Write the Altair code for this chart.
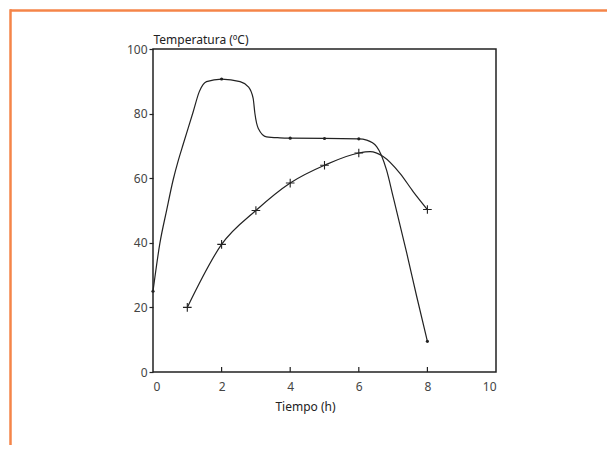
import altair as alt
import pandas as pd

# marked data points
time_dots = [0, 2, 4, 5, 6, 8]
temp_dots = [25, 90.7, 72.4, 72.3, 72.2, 9.5]
time_cross = [1, 2, 3, 4, 5, 6, 8]
temp_cross = [20, 39.5, 50, 58.5, 64, 67.8, 50.3]

# points
curve1_x = [0, 0.2, 0.4, 0.59, 0.74, 0.88, 1.17, 1.35, 1.56, 2, 2.54, 2.78, 2.92, 2.97, 3.07, 3.31, 3.70,
            4, 5, 6, 6.23, 6.52, 6.81, 7.0, 7.4, 7.69, 8]
curve1_y = [25, 39.8, 50.2, 59.6, 65.6, 70.5, 80.5, 86.8, 89.9, 90.7, 89.9, 88.3, 84.7, 80.1, 75.4, 72.8, 72.5,
            72.4, 72.3, 72.2, 71.8, 69.8, 62.5, 54.3, 36.7, 23.3, 9.5]
curve2_x = [1, 2, 3, 4, 5, 6, 6.33, 6.71, 7.2, 7.59, 8]
curve2_y = [20, 39.5, 50, 58.5, 64, 67.8, 68.2, 66.7, 61.5, 55.8, 50.3]

x_ticks = [0, 2, 4, 6, 8, 10]
y_ticks = [0, 20, 40, 60, 80, 100]
inner_ticks = [2, 4, 6, 8]

W, H = 343, 323
FONT = "Noto Sans"
INK = "#222222"
ORANGE = "#F58549"

xs = alt.Scale(domain=[0, 10], nice=False)
ys = alt.Scale(domain=[0, 100], nice=False)

c1 = pd.DataFrame({"t": curve1_x, "v": curve1_y})
c2 = pd.DataFrame({"t": curve2_x, "v": curve2_y})
d1 = pd.DataFrame({"t": time_dots, "v": temp_dots})
d2 = pd.DataFrame({"t": time_cross, "v": temp_cross})
tk = pd.DataFrame({"t": inner_ticks})

xaxis = alt.Axis(values=x_ticks, ticks=False, domain=False, grid=False, labelPadding=9,
                 labelFont=FONT, labelFontSize=12, labelColor="#444444",
                 title="Tiempo (h)", titleFont=FONT, titleFontSize=12, titleFontWeight="normal",
                 titleColor=INK, titleX=152, titleY=34, titleBaseline="middle", titleAnchor="start",
                 titleAlign="center")
yaxis = alt.Axis(values=y_ticks, tickSize=4, tickColor=INK, tickWidth=1.2, domain=False, grid=False,
                 labelPadding=2, labelFont=FONT, labelFontSize=12, labelColor="#444444",
                 title="Temperatura (ºC)", titleFont=FONT, titleFontSize=12, titleFontWeight="normal",
                 titleColor=INK, titleAngle=0, titleX=0, titleY=-10, titleAlign="left",
                 titleBaseline="middle", titleAnchor="start")

line1 = alt.Chart(c1).mark_line(interpolate="monotone", color=INK, strokeWidth=1.2).encode(
    x=alt.X("t:Q", scale=xs, axis=xaxis),
    y=alt.Y("v:Q", scale=ys, axis=yaxis),
)
line2 = alt.Chart(c2).mark_line(interpolate="monotone", color=INK, strokeWidth=1.2).encode(
    x=alt.X("t:Q", scale=xs), y=alt.Y("v:Q", scale=ys))
dots = alt.Chart(d1).mark_point(filled=True, shape="circle", size=10, color=INK, opacity=1).encode(
    x=alt.X("t:Q", scale=xs), y=alt.Y("v:Q", scale=ys))
crosses = alt.Chart(d2).mark_point(filled=False, shape="M-1,0L1,0M0,-1L0,1", size=75, color=INK,
                                   strokeWidth=1.1, opacity=1).encode(
    x=alt.X("t:Q", scale=xs), y=alt.Y("v:Q", scale=ys))
ticks = alt.Chart(tk).mark_rule(color=INK, strokeWidth=1.2).encode(
    x=alt.X("t:Q", scale=xs), y=alt.value(H), y2=alt.value(H - 5))

border_top = alt.Chart(pd.DataFrame({"a": [0]})).mark_rule(color=ORANGE, strokeWidth=2.5).encode(
    x=alt.value(-143), x2=alt.value(470), y=alt.value(-38.5))
border_left = alt.Chart(pd.DataFrame({"a": [0]})).mark_rule(color=ORANGE, strokeWidth=2.5).encode(
    x=alt.value(-142.5), y=alt.value(-39.7), y2=alt.value(420))

chart = alt.layer(line1, line2, ticks, dots, crosses, border_top, border_left).properties(
    width=W, height=H,
    autosize=alt.AutoSizeParams(type="none"),
    padding={"left": 145, "top": 41, "right": 111, "bottom": 73},
    background="white",
).configure_view(stroke=INK, strokeWidth=1.5)

chart.save("out.html", embed_options={"renderer": "svg", "actions": False})
